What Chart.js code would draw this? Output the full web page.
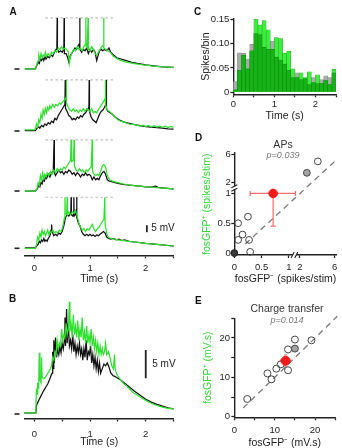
<!DOCTYPE html>
<html>
<head>
<meta charset="utf-8">
<script src="https://cdn.jsdelivr.net/npm/chart.js@4.4.1/dist/chart.umd.min.js"></script>
<style>
  html, body { margin:0; padding:0; background:#fff; }
  body { width:342px; height:448px; position:relative; overflow:hidden; }
  .pane { position:absolute; }
  .pane canvas { display:block; }
</style>
</head>
<body>
<div class="pane" style="left:0;top:0"><canvas id="chartA" width="190" height="290"></canvas></div>
<div class="pane" style="left:0;top:290px"><canvas id="chartB" width="190" height="158"></canvas></div>
<div class="pane" style="left:190px;top:0"><canvas id="chartC" width="152" height="125"></canvas></div>
<div class="pane" style="left:190px;top:125px"><canvas id="chartD" width="152" height="160"></canvas></div>
<div class="pane" style="left:190px;top:285px"><canvas id="chartE" width="152" height="163"></canvas></div>
<script>
// ================= DATA =================
// Panel A: four example trials, [time (s), membrane potential above rest (mV)]
const a1Green = [[-0.17,0],[0.02,0],[0.05,4],[0.07,6],[0.08,10],[0.10,7],[0.12,11],[0.14,8],[0.16,10],[0.18,9],[0.20,12],[0.22,9],[0.25,11],[0.28,9],[0.31,12],[0.34,11],[0.37,13],[0.40,12],[0.43,15],[0.46,14],[0.49,16],[0.52,14],[0.55,15],[0.58,14],[0.61,12],[0.63,4],[0.65,9],[0.68,12],[0.71,14],[0.74,13],[0.77,16],[0.80,14],[0.83,15],[0.86,13],[0.89,16],[0.92,18],[0.925,36.5],[0.93,16],[0.95,15],[0.965,36.5],[0.97,14],[1.0,13],[1.03,16],[1.06,14],[1.09,11],[1.12,10],[1.15,12],[1.18,14],[1.21,16],[1.24,17],[1.245,36.5],[1.25,15],[1.28,14],[1.32,13],[1.36,12],[1.42,9],[1.5,7],[1.6,5.5],[1.7,4.5],[1.8,3.8],[1.95,3],[2.1,2.3],[2.3,1.6],[2.5,1.1]];
const a1Black = [[-0.17,0],[0.02,0],[0.05,3],[0.07,5],[0.09,4],[0.11,7],[0.13,6],[0.15,8],[0.17,6],[0.19,9],[0.21,7],[0.24,9],[0.27,8],[0.30,10],[0.33,9],[0.36,12],[0.39,14],[0.405,15],[0.41,36.5],[0.415,14],[0.44,12],[0.47,13],[0.50,12],[0.53,14],[0.535,36.5],[0.54,11],[0.57,11],[0.60,8],[0.62,5],[0.64,9],[0.67,11],[0.70,13],[0.73,15],[0.76,14],[0.79,17],[0.81,18],[0.815,36.5],[0.82,14],[0.85,12],[0.88,14],[0.91,13],[0.94,15],[0.97,11],[1.00,14],[1.03,12],[1.06,14],[1.09,12],[1.12,6],[1.14,9],[1.17,13],[1.20,14],[1.23,13],[1.26,14],[1.30,13],[1.34,15],[1.37,12],[1.42,10],[1.48,8],[1.56,7],[1.65,6],[1.75,4.8],[1.85,4],[2.0,3],[2.15,2.3],[2.3,1.6],[2.5,1.1]];
const a2Green = [[-0.17,0.8],[0.0,0.8],[0.02,1.5],[0.04,5],[0.06,3],[0.08,8],[0.10,6],[0.12,12],[0.14,9],[0.16,15],[0.18,12],[0.20,16],[0.22,13],[0.24,17],[0.26,15],[0.28,18],[0.30,16],[0.33,19],[0.36,17],[0.39,19],[0.42,18],[0.45,20],[0.48,19],[0.51,21],[0.54,22],[0.57,24],[0.575,36.5],[0.58,20],[0.61,17],[0.64,15],[0.67,14],[0.70,16],[0.73,14],[0.76,15],[0.79,13],[0.82,15],[0.85,14],[0.88,16],[0.91,14],[0.94,16],[0.97,15],[1.00,14],[1.03,16],[1.06,13],[1.09,14],[1.12,13],[1.15,15],[1.18,17],[1.21,19],[1.24,21],[1.27,23],[1.275,36.5],[1.28,19],[1.31,15],[1.35,14],[1.40,12],[1.45,10],[1.5,8],[1.55,7],[1.6,6.5],[1.7,5],[1.8,4.5],[1.9,3.5],[1.95,4.2],[2.0,3.2],[2.05,4],[2.1,3],[2.15,3.8],[2.2,2.8],[2.25,3.5],[2.3,2.6],[2.35,3.4],[2.4,2.4],[2.45,3.2],[2.5,2.6]];
const a2Black = [[-0.17,0.3],[0.02,0.3],[0.05,2],[0.08,3],[0.10,2],[0.13,4],[0.16,3],[0.19,5],[0.22,4],[0.25,6],[0.28,5],[0.31,7],[0.34,6],[0.37,9],[0.40,8],[0.43,11],[0.46,13],[0.49,15],[0.52,17],[0.55,19],[0.555,36.5],[0.56,16],[0.59,14],[0.62,11],[0.65,10],[0.68,8],[0.71,9],[0.74,8],[0.77,10],[0.80,9],[0.83,11],[0.86,10],[0.89,12],[0.92,13],[0.95,15],[0.98,17],[0.985,36.5],[0.99,14],[1.02,10],[1.05,8],[1.08,7],[1.11,6],[1.14,9],[1.17,12],[1.20,14],[1.23,15],[1.26,17],[1.285,19],[1.29,36.5],[1.295,16],[1.32,14],[1.36,13],[1.40,12],[1.45,10],[1.52,8],[1.6,6.5],[1.7,5.5],[1.8,4.5],[1.9,3.8],[2.0,3.2],[2.15,2.6],[2.3,2],[2.4,1.6],[2.5,1.3]];
const a3Green = [[-0.17,0],[0.02,0],[0.05,2],[0.07,6],[0.09,4],[0.11,11],[0.13,8],[0.15,13],[0.17,9],[0.19,12],[0.21,10],[0.23,13],[0.26,11],[0.29,14],[0.32,12],[0.35,15],[0.38,13],[0.41,16],[0.44,14],[0.47,16],[0.50,15],[0.53,17],[0.56,16],[0.59,18],[0.62,20],[0.65,22],[0.66,36.5],[0.67,21],[0.70,22],[0.715,36.5],[0.72,18],[0.75,15],[0.78,14],[0.81,16],[0.84,14],[0.87,15],[0.90,13],[0.93,15],[0.96,14],[0.99,16],[1.02,17],[1.04,36.5],[1.045,14],[1.07,12],[1.10,11],[1.13,12],[1.16,11],[1.19,14],[1.22,18],[1.25,19],[1.28,17],[1.31,11],[1.35,8],[1.4,7],[1.5,6],[1.6,5],[1.7,4.4],[1.8,3.8],[1.9,3.4],[2.0,3],[2.1,2.7],[2.2,2.4],[2.3,2.1],[2.4,1.8],[2.5,1.5]];
const a3Black = [[-0.17,0],[0.02,0],[0.05,1.5],[0.08,4],[0.10,3],[0.12,6],[0.14,5],[0.16,8],[0.18,7],[0.20,10],[0.22,9],[0.25,12],[0.28,10],[0.31,13],[0.34,14],[0.355,36.5],[0.36,13],[0.38,11],[0.41,13],[0.44,15],[0.47,13],[0.50,14],[0.53,12],[0.56,14],[0.59,13],[0.62,15],[0.65,14],[0.68,12],[0.71,13],[0.74,11],[0.77,13],[0.80,12],[0.83,10],[0.86,12],[0.89,11],[0.92,13],[0.95,11],[0.98,12],[1.01,11],[1.04,8],[1.07,10],[1.10,8],[1.13,9],[1.16,8],[1.19,11],[1.22,13],[1.25,14],[1.28,12],[1.31,8],[1.35,7],[1.4,6.5],[1.5,5.5],[1.6,4.8],[1.7,4.2],[1.8,3.8],[1.9,3.4],[2.0,3],[2.1,2.8],[2.18,3.4],[2.22,2.6],[2.3,2.2],[2.4,1.8],[2.5,1.4]];
const a4Green = [[-0.17,0],[0.02,0],[0.04,3],[0.06,8],[0.08,6],[0.10,11],[0.12,8],[0.14,13],[0.16,10],[0.18,12],[0.20,9],[0.22,11],[0.24,13],[0.26,10],[0.28,12],[0.30,11],[0.33,13],[0.36,11],[0.39,12],[0.42,11],[0.45,13],[0.48,12],[0.51,15],[0.54,22],[0.55,36.5],[0.555,24],[0.58,25],[0.59,36.5],[0.595,24],[0.62,26],[0.65,24],[0.68,26],[0.71,25],[0.74,27],[0.77,23],[0.80,18],[0.83,15],[0.86,13],[0.89,14],[0.92,12],[0.95,14],[0.98,13],[1.01,15],[1.04,17],[1.07,14],[1.10,12],[1.13,14],[1.16,15],[1.19,17],[1.22,19],[1.25,21],[1.265,36.5],[1.27,18],[1.30,10],[1.34,7.5],[1.38,7],[1.45,6.5],[1.5,6],[1.6,5.5],[1.7,5],[1.8,4.5],[1.9,4],[2.0,3.5],[2.1,3.1],[2.2,2.8],[2.3,2.4],[2.4,2],[2.5,1.7]];
const a4Black = [[-0.17,0.3],[0.02,0.3],[0.05,2],[0.07,3],[0.09,5],[0.11,4],[0.13,6],[0.15,5],[0.17,7],[0.19,5],[0.21,6],[0.23,5],[0.25,7],[0.28,9],[0.30,13],[0.31,17],[0.32,12],[0.35,9],[0.38,10],[0.41,9],[0.44,11],[0.47,10],[0.50,12],[0.53,16],[0.56,22],[0.59,24],[0.62,23],[0.655,26],[0.66,36.5],[0.665,24],[0.69,23],[0.705,25],[0.71,36.5],[0.715,23],[0.74,24],[0.755,27],[0.76,36.5],[0.765,22],[0.79,18],[0.82,16],[0.85,12],[0.88,10],[0.91,9],[0.94,10],[0.97,9],[1.00,10],[1.03,9],[1.06,9.5],[1.09,8.5],[1.12,9.5],[1.15,9],[1.18,10],[1.21,11],[1.24,12],[1.27,11],[1.30,8],[1.33,7],[1.37,6.5],[1.42,7],[1.47,6],[1.52,6.5],[1.57,5.5],[1.62,6],[1.7,5],[1.8,4.5],[1.9,4],[2.0,3.5],[2.1,3.2],[2.2,2.8],[2.3,2.4],[2.4,2],[2.5,1.6]];
const aClipSpan = [0.2, 1.42];       // s, extent of the dashed spike-truncation line
const aClipLevel = 36.5;             // mV
const aScaleBarT = 2.02;             // s
const aScaleBarMv = [11.5, 16.5];    // 5 mV

// Panel B: averaged responses
const bGreen = [[-0.18,0.2],[0.02,0.2],[0.03,2],[0.04,4.5],[0.05,3.5],[0.06,5.5],[0.07,4.5],[0.08,6],[0.09,10.8],[0.10,6],[0.12,5.5],[0.13,10],[0.14,6.5],[0.17,6.2],[0.20,6.5],[0.23,7],[0.26,7.5],[0.29,8],[0.31,8.5],[0.33,10],[0.35,9.5],[0.37,11],[0.39,10.5],[0.41,13],[0.43,11.5],[0.45,12.5],[0.47,12],[0.49,15],[0.51,13],[0.53,14],[0.55,13.5],[0.57,16],[0.59,14],[0.61,15],[0.63,19.8],[0.64,14.5],[0.66,16],[0.68,13.5],[0.70,17.5],[0.72,14],[0.74,15.5],[0.76,13.5],[0.78,16.5],[0.80,13],[0.82,15],[0.84,13.5],[0.86,17],[0.88,13],[0.90,14.5],[0.92,12.5],[0.94,15.5],[0.96,12.5],[0.98,14],[1.00,12.5],[1.02,15],[1.04,12],[1.06,13.5],[1.08,11.5],[1.10,13],[1.12,11],[1.14,12.5],[1.16,10.5],[1.18,12],[1.20,10.5],[1.22,11.5],[1.24,10.5],[1.26,11],[1.28,12.5],[1.30,10.5],[1.33,11],[1.36,10],[1.39,8.5],[1.42,8],[1.44,10.5],[1.45,8],[1.48,7],[1.52,6.4],[1.56,5.9],[1.6,5.4],[1.65,5],[1.7,4.5],[1.8,3.6],[1.9,3],[2.0,2.4],[2.1,1.9],[2.2,1.5],[2.3,1.2],[2.4,1],[2.5,0.9]];
const bBlack = [[-0.18,0.2],[0.03,0.2],[0.04,1.5],[0.06,2],[0.09,2.6],[0.12,3.2],[0.15,3.8],[0.18,4.3],[0.21,4.8],[0.24,5.3],[0.27,6],[0.30,6.8],[0.32,7.2],[0.33,11],[0.34,8],[0.35,13],[0.36,9],[0.38,13.5],[0.40,10],[0.42,11.5],[0.44,10.5],[0.46,12],[0.48,10.8],[0.50,12.5],[0.52,11.5],[0.54,13],[0.55,17],[0.56,12],[0.58,18.5],[0.59,12.5],[0.61,16],[0.63,12],[0.65,13],[0.67,11.5],[0.69,14],[0.71,11],[0.73,12.5],[0.75,10.5],[0.77,12],[0.79,10.8],[0.81,12.5],[0.83,10.5],[0.85,11.5],[0.87,9.5],[0.89,11.5],[0.91,10],[0.93,13],[0.95,9.5],[0.97,11],[0.99,10.5],[1.01,12],[1.03,9],[1.05,10.5],[1.07,8.5],[1.09,10],[1.11,8],[1.13,9.5],[1.15,7.5],[1.17,9],[1.19,7.2],[1.22,8],[1.25,8.8],[1.28,8.5],[1.31,9],[1.34,8.3],[1.37,7.3],[1.41,6.8],[1.45,6.6],[1.5,6.3],[1.55,6],[1.6,5.6],[1.65,5.2],[1.7,4.8],[1.8,4],[1.9,3.3],[2.0,2.6],[2.1,2.1],[2.2,1.7],[2.3,1.4],[2.4,1.1],[2.5,0.9]];
const bScaleBarT = 2.0;
const bScaleBarMv = [6.3, 11.3];

const timeTicks = [0, 0.5, 1, 1.5, 2, 2.5];
const timeTickLabels = ['0', '', '1', '', '2', ''];

// Panel C: spike histogram (spikes/bin), 0.1 s bins
const histBins = [0.05,0.15,0.25,0.35,0.45,0.55,0.65,0.75,0.85,0.95,1.05,1.15,1.25,1.35,1.45,1.55,1.65,1.75,1.85,1.95,2.05,2.15,2.25,2.35,2.45];
const histNeg = [0.022,0.081,0.080,0.068,0.098,0.120,0.118,0.092,0.088,0.105,0.072,0.066,0.058,0.045,0.030,0.040,0.026,0.028,0.016,0.030,0.018,0.026,0.034,0.030,0.040];
const histPos = [0.005,0.045,0.076,0.048,0.085,0.150,0.138,0.147,0.128,0.088,0.112,0.110,0.080,0.084,0.048,0.030,0.040,0.030,0.042,0.020,0.036,0.018,0.024,0.016,0.047];
const histTicksY = [0, 0.05, 0.10, 0.15];
const histTickLabelsY = ['0', '0.05', '0.10', '0.15'];

// Panel D: APs (spikes/stim), fosGFP- (x) vs fosGFP+ (y)
const apsOpenNeg = [0.07, 0.25, 0.15, 0.07, 0.27, 0.29, 4.06];
const apsOpenPos = [0.50, 0.61, 0.31, 0.22, 0.22, 0.02, 5.04];
const apsGreyNeg = [2.8];
const apsGreyPos = [3.39];
const apsZeroNeg = [0];
const apsZeroPos = [0];
const apsMeanNeg = [0.71];
const apsMeanPos = [1.0];
const apsErrNeg = [0.29, 1.6];
const apsErrPos = [0.45, 1.0];
const apsUnityNeg = [0.2, 6.1];
const apsUnityPos = [0.15, 5.14];
const apsTicks = [0, 0.5, 1, 2, 6];
const apsTickLabels = ['0', '0.5', '1', '2', '6'];
const apsBreak = [1.5];

// Panel E: charge transfer (mV.s)
const chgOpenNeg = [3.2, 8.2, 9.2, 10.4, 11.5, 13.3, 13.3, 15.0, 19.1];
const chgOpenPos = [4.5, 11.0, 9.5, 12.2, 13.3, 17.1, 11.8, 19.6, 19.4];
const chgGreyNeg = [15.0];
const chgGreyPos = [17.3];
const chgMeanNeg = [12.7];
const chgMeanPos = [14.2];
const chgErrNeg = [11.4, 14.0];
const chgErrPos = [12.7, 15.7];
const chgUnity = [2.2, 25.5];
const chgTicks = [0, 5, 10, 15, 20, 25];
const chgTickLabels = ['0', '', '10', '', '20', ''];

// ================= RENDERING =================
const FONT = '"Liberation Sans", Arial, Helvetica, sans-serif';
Chart.defaults.font.family = FONT;
Chart.defaults.font.size = 9.5;
Chart.defaults.color = '#222';
Chart.defaults.animation = false;
Chart.defaults.responsive = false;
Chart.defaults.events = [];
Chart.defaults.plugins.legend.display = false;
Chart.defaults.plugins.tooltip.enabled = false;

const INK = '#222';
const TRACE_GREEN = '#2fe02f';
const TRACE_BLACK = '#111';
const LABEL_GREEN = '#33d633';
const toXY = pts => pts.map(p => ({ x: p[0], y: p[1] }));

function hAxis(o) {
  return {
    type: 'linear', position: 'bottom', min: o.min, max: o.max, offset: false,
    afterBuildTicks: s => { s.ticks = o.ticks.map(v => ({ value: o.map ? o.map(v) : v })); },
    afterFit: s => { s.height = o.height; },
    ticks: { autoSkip: false, maxRotation: 0, minRotation: 0, padding: o.pad, color: INK,
             font: { size: 9.5 }, callback: (v, i) => o.labels[i] },
    grid: { display: true, offset: false, drawOnChartArea: false, drawTicks: true, tickLength: 3, tickWidth: 1.3, tickColor: INK },
    border: { display: true, color: INK, width: o.bw || 1.4 },
    title: { display: !!o.title, text: o.title || '', color: o.titleColor || INK,
             font: { size: 10.5, lineHeight: 1 }, padding: { top: 0, bottom: o.tpad || 0 } }
  };
}
function vAxis(o) {
  return {
    type: 'linear', position: 'left', min: o.min, max: o.max, offset: false,
    afterBuildTicks: s => { s.ticks = o.ticks.map(v => ({ value: o.map ? o.map(v) : v })); },
    afterFit: s => { s.width = o.width; },
    ticks: { autoSkip: false, padding: o.pad, color: INK, font: { size: 9.5 }, callback: (v, i) => o.labels[i] },
    grid: { display: true, offset: false, drawOnChartArea: false, drawTicks: true, tickLength: 3, tickWidth: 1.3, tickColor: INK },
    border: { display: true, color: INK, width: 1.4 },
    title: { display: !!o.title, text: o.title || '', color: o.titleColor || INK, align: o.align || 'center',
             font: { size: 10.5, lineHeight: 1 }, padding: { top: o.tpad || 0, bottom: 0 } }
  };
}
const traceDs = (pts, color, yId) => ({
  type: 'line', data: toXY(pts), yAxisID: yId, borderColor: color, borderWidth: 1.25,
  pointRadius: 0, tension: 0, clip: false, fill: false
});
function drawText(ctx, s, x, y, font, color, align) {
  ctx.save(); ctx.font = font; ctx.fillStyle = color; ctx.textAlign = align || 'left';
  ctx.textBaseline = 'middle'; ctx.fillText(s, x, y); ctx.restore();
}

// ---------- Chart A ----------
const rowIds = ['r0', 'r1', 'r2', 'r3'];
const rowWeight = [59.7, 62, 60, 57.3];
const rowMax = [37.64, 39.29, 37.86, 35.93];
const aTraces = [[a1Green, a1Black], [a2Green, a2Black], [a3Green, a3Black], [a4Green, a4Black]];
const scalesA = { x: hAxis({ min: -0.167, max: 2.5, ticks: timeTicks, labels: timeTickLabels, height: 34.7, pad: 4.4, title: 'Time (s)', tpad: 5.75, bw: 1.6 }) };
rowIds.forEach((id, i) => {
  scalesA[id] = { type: 'linear', display: false, position: 'left', stack: 'rowsA', stackWeight: rowWeight[i], weight: 10 - i, min: -5, max: rowMax[i] };
});
const dsA = [];
aTraces.forEach((pair, i) => dsA.push(traceDs(pair[0], TRACE_GREEN, rowIds[i])));
aTraces.forEach((pair, i) => dsA.push(traceDs(pair[1], TRACE_BLACK, rowIds[i])));
rowIds.forEach(id => dsA.push({
  type: 'line', data: aClipSpan.map(t => ({ x: t, y: aClipLevel })), yAxisID: id,
  borderColor: '#bdbdbd', borderWidth: 1.1, borderDash: [2.5, 2.5], pointRadius: 0, clip: false
}));
new Chart(document.getElementById('chartA'), {
  type: 'line',
  data: { datasets: dsA },
  options: {
    layout: { padding: { left: 25, right: 16.4, top: 16.3, bottom: 0 } },
    scales: scalesA
  },
  plugins: [{
    id: 'aDecor',
    afterDraw(chart) {
      const { ctx, scales } = chart;
      ctx.save();
      ctx.strokeStyle = INK; ctx.lineWidth = 1.6;
      rowIds.forEach(id => {
        const y = scales[id].getPixelForValue(0);
        ctx.beginPath(); ctx.moveTo(14.5, y); ctx.lineTo(19.5, y); ctx.stroke();
      });
      const ys = scales.r3, bx = scales.x.getPixelForValue(aScaleBarT);
      ctx.lineWidth = 1.8;
      ctx.beginPath(); ctx.moveTo(bx, ys.getPixelForValue(aScaleBarMv[0])); ctx.lineTo(bx, ys.getPixelForValue(aScaleBarMv[1])); ctx.stroke();
      ctx.restore();
      drawText(ctx, '5 mV', bx + 4.5, ys.getPixelForValue((aScaleBarMv[0] + aScaleBarMv[1]) / 2), '10px ' + FONT, INK);
      drawText(ctx, 'A', 9.5, 12.5, 'bold 10px ' + FONT, '#111');
    }
  }]
});

// ---------- Chart B ----------
new Chart(document.getElementById('chartB'), {
  type: 'line',
  data: { datasets: [traceDs(bGreen, TRACE_GREEN, 'y'), traceDs(bBlack, TRACE_BLACK, 'y')] },
  options: {
    layout: { padding: { left: 25, right: 16.4, top: 6, bottom: 0 } },
    scales: {
      x: hAxis({ min: -0.167, max: 2.5, ticks: timeTicks, labels: timeTickLabels, height: 29.5, pad: 6.7, title: 'Time (s)', tpad: 1, bw: 1.6 }),
      y: { type: 'linear', display: false, min: -0.79, max: 20.81 }
    }
  },
  plugins: [{
    id: 'bDecor',
    afterDraw(chart) {
      const { ctx, scales } = chart;
      const ys = scales.y, bx = scales.x.getPixelForValue(bScaleBarT);
      ctx.save();
      ctx.strokeStyle = INK; ctx.lineWidth = 1.6;
      const y0 = ys.getPixelForValue(0);
      ctx.beginPath(); ctx.moveTo(14.5, y0); ctx.lineTo(19.5, y0); ctx.stroke();
      ctx.lineWidth = 1.8;
      ctx.beginPath(); ctx.moveTo(bx, ys.getPixelForValue(bScaleBarMv[0])); ctx.lineTo(bx, ys.getPixelForValue(bScaleBarMv[1])); ctx.stroke();
      ctx.restore();
      drawText(ctx, '5 mV', bx + 6.5, ys.getPixelForValue((bScaleBarMv[0] + bScaleBarMv[1]) / 2), '10px ' + FONT, INK);
      drawText(ctx, 'B', 9, 9.5, 'bold 10px ' + FONT, '#111');
    }
  }]
});

// ---------- Chart C ----------
const histOverlap = histNeg.map((v, i) => Math.min(v, histPos[i]));
const barDs = (vals, bg, bc) => ({
  type: 'bar', data: histBins.map((t, i) => ({ x: t, y: vals[i] })), backgroundColor: bg,
  borderColor: bc, borderWidth: { left: 0.6, right: 0.6, top: 0.6, bottom: 0 }, borderSkipped: 'start',
  grouped: false, barPercentage: 1, categoryPercentage: 1
});
new Chart(document.getElementById('chartC'), {
  type: 'bar',
  data: { datasets: [
    barDs(histOverlap, '#17b217', '#0d8d0d'),
    barDs(histPos, '#3fec3f', '#1fb51f'),
    barDs(histNeg, '#ababab', '#8a8a8a')
  ] },
  options: {
    layout: { padding: { left: 0, right: 6, top: 19, bottom: 0 } },
    scales: {
      x: hAxis({ min: 0, max: 2.5, ticks: timeTicks, labels: timeTickLabels, height: 30.7, pad: 1.7, title: 'Time (s)', tpad: 3.75 }),
      y: vAxis({ min: -0.004, max: 0.15, ticks: histTicksY, labels: histTickLabelsY, width: 43.3, pad: 1, title: 'Spikes/bin', tpad: 10.75 })
    }
  },
  plugins: [{
    id: 'cDecor',
    afterDraw(chart) { drawText(chart.ctx, 'C', 4, 12, 'bold 10px ' + FONT, '#111'); }
  }]
});

// ---------- Chart D (broken axes) ----------
const dX = v => v <= 1 ? v : (v < 2 ? 1 + (v - 1) * 0.2 : 1.2 + (v - 2) * 0.159);
const dY = v => v <= 1 ? v : (v < 2 ? 1 + (v - 1) * 0.183 : 1.183 + (v - 2) * 0.1167);
const dPts = (xs, ys) => xs.map((v, i) => ({ x: dX(v), y: dY(ys[i]) }));
const dotDs = (data, r, bg, bc) => ({ data, pointRadius: r, backgroundColor: bg, borderColor: bc, borderWidth: 1, clip: false });
new Chart(document.getElementById('chartD'), {
  type: 'scatter',
  data: { datasets: [
    dotDs(dPts(apsMeanNeg, apsMeanPos), 4.3, '#f01a1a', '#f01a1a'),
    dotDs(dPts(apsZeroNeg, apsZeroPos), 3.4, '#3a3a3a', '#222'),
    dotDs(dPts(apsGreyNeg, apsGreyPos), 3.4, '#a3a3a3', '#444'),
    dotDs(dPts(apsOpenNeg, apsOpenPos), 3.4, 'rgba(255,255,255,0)', '#444'),
    { data: dPts(apsUnityNeg, apsUnityPos), showLine: true, pointRadius: 0, borderColor: '#7a7a7a', borderWidth: 1.3, borderDash: [6, 4.5], clip: false }
  ] },
  options: {
    layout: { padding: { left: 0, right: 5, top: 27.7, bottom: 0 } },
    scales: {
      x: hAxis({ min: 0, max: 1.873, ticks: apsTicks, labels: apsTickLabels, map: dX, height: 30, pad: 3.7, title: 'fosGFP\u207B (spikes/stim)', tpad: 0.75 }),
      y: vAxis({ min: -0.033, max: 1.683, ticks: apsTicks, labels: apsTickLabels, map: dY, width: 44.3, pad: 0.5, title: 'fosGFP\u207A (spikes/stim)', tpad: 12.25, align: 'start', titleColor: LABEL_GREEN })
    }
  },
  plugins: [{
    id: 'dDecor',
    beforeDatasetsDraw(chart) {
      const { ctx, scales: { x, y } } = chart;
      const cx = x.getPixelForValue(dX(apsMeanNeg[0])), cy = y.getPixelForValue(dY(apsMeanPos[0]));
      const x0 = x.getPixelForValue(dX(apsErrNeg[0])), x1 = x.getPixelForValue(dX(apsErrNeg[1]));
      const y0 = y.getPixelForValue(dY(apsErrPos[0])), y1 = y.getPixelForValue(dY(apsErrPos[1]));
      ctx.save(); ctx.strokeStyle = '#f06e6e'; ctx.lineWidth = 1.2; ctx.beginPath();
      ctx.moveTo(x0, cy); ctx.lineTo(x1, cy);
      ctx.moveTo(x0, cy - 2.5); ctx.lineTo(x0, cy + 2.5); ctx.moveTo(x1, cy - 2.5); ctx.lineTo(x1, cy + 2.5);
      ctx.moveTo(cx, y1); ctx.lineTo(cx, y0); ctx.moveTo(cx - 2.5, y0); ctx.lineTo(cx + 2.5, y0);
      ctx.stroke(); ctx.restore();
    },
    afterDraw(chart) {
      const { ctx, scales: { x, y } } = chart;
      const ax = x.left, ay = y.bottom;
      const by = y.getPixelForValue(dY(apsBreak[0])), bx = x.getPixelForValue(dX(apsBreak[0]));
      ctx.save();
      ctx.fillStyle = '#fff';
      ctx.fillRect(ax - 2, by - 1.6, 4, 3.2);
      ctx.fillRect(bx - 1.6, ay - 2, 3.2, 4);
      ctx.strokeStyle = INK; ctx.lineWidth = 1.1; ctx.beginPath();
      ctx.moveTo(ax - 3, by - 0.3); ctx.lineTo(ax + 3, by - 3.3);
      ctx.moveTo(ax - 3, by + 3.3); ctx.lineTo(ax + 3, by + 0.3);
      ctx.moveTo(bx - 3.3, ay + 3); ctx.lineTo(bx - 0.3, ay - 3);
      ctx.moveTo(bx + 0.3, ay + 3); ctx.lineTo(bx + 3.3, ay - 3);
      ctx.stroke(); ctx.restore();
      drawText(ctx, 'D', 5, 13, 'bold 10px ' + FONT, '#111');
      drawText(ctx, 'APs', 93, 20, '10.5px ' + FONT, '#333', 'center');
      drawText(ctx, 'p=0.039', 93, 30.5, 'italic 9px ' + FONT, '#777', 'center');
    }
  }]
});

// ---------- Chart E ----------
const ePts = (xs, ys) => xs.map((v, i) => ({ x: v, y: ys[i] }));
new Chart(document.getElementById('chartE'), {
  type: 'scatter',
  data: { datasets: [
    dotDs(ePts(chgMeanNeg, chgMeanPos), 4.5, '#f01a1a', '#f01a1a'),
    dotDs(ePts(chgGreyNeg, chgGreyPos), 3.5, '#a3a3a3', '#444'),
    dotDs(ePts(chgOpenNeg, chgOpenPos), 3.5, 'rgba(255,255,255,0)', '#444'),
    { data: ePts(chgUnity, chgUnity), showLine: true, pointRadius: 0, borderColor: '#7a7a7a', borderWidth: 1.3, borderDash: [6, 4.5], clip: false }
  ] },
  options: {
    layout: { padding: { left: 0, right: 6.7, top: 33.3, bottom: 0 } },
    scales: {
      x: hAxis({ min: 0, max: 25, ticks: chgTicks, labels: chgTickLabels, height: 30.7, pad: 4.4, title: 'fosGFP\u207B (mV.s)', tpad: 0 }),
      y: vAxis({ min: -0.15, max: 25, ticks: chgTicks, labels: chgTickLabels, width: 44.3, pad: 1.3, title: 'fosGFP\u207A (mV.s)', tpad: 12.75, titleColor: LABEL_GREEN })
    }
  },
  plugins: [{
    id: 'eDecor',
    beforeDatasetsDraw(chart) {
      const { ctx, scales: { x, y } } = chart;
      const cx = x.getPixelForValue(chgMeanNeg[0]), cy = y.getPixelForValue(chgMeanPos[0]);
      const x0 = x.getPixelForValue(chgErrNeg[0]), x1 = x.getPixelForValue(chgErrNeg[1]);
      const y0 = y.getPixelForValue(chgErrPos[0]), y1 = y.getPixelForValue(chgErrPos[1]);
      ctx.save(); ctx.strokeStyle = '#f28a8a'; ctx.lineWidth = 1.1; ctx.beginPath();
      ctx.moveTo(x0, cy); ctx.lineTo(x1, cy); ctx.moveTo(cx, y0); ctx.lineTo(cx, y1);
      ctx.moveTo(x0, cy - 1.5); ctx.lineTo(x0, cy + 1.5); ctx.moveTo(x1, cy - 1.5); ctx.lineTo(x1, cy + 1.5);
      ctx.moveTo(cx - 1.5, y0); ctx.lineTo(cx + 1.5, y0); ctx.moveTo(cx - 1.5, y1); ctx.lineTo(cx + 1.5, y1);
      ctx.stroke(); ctx.restore();
    },
    afterDraw(chart) {
      const ctx = chart.ctx;
      drawText(ctx, 'E', 5, 16, 'bold 10px ' + FONT, '#111');
      drawText(ctx, 'Charge transfer', 97, 24, '10.5px ' + FONT, '#333', 'center');
      drawText(ctx, 'p=0.014', 97, 35, 'italic 9px ' + FONT, '#777', 'center');
    }
  }]
});
</script>
</body>
</html>
